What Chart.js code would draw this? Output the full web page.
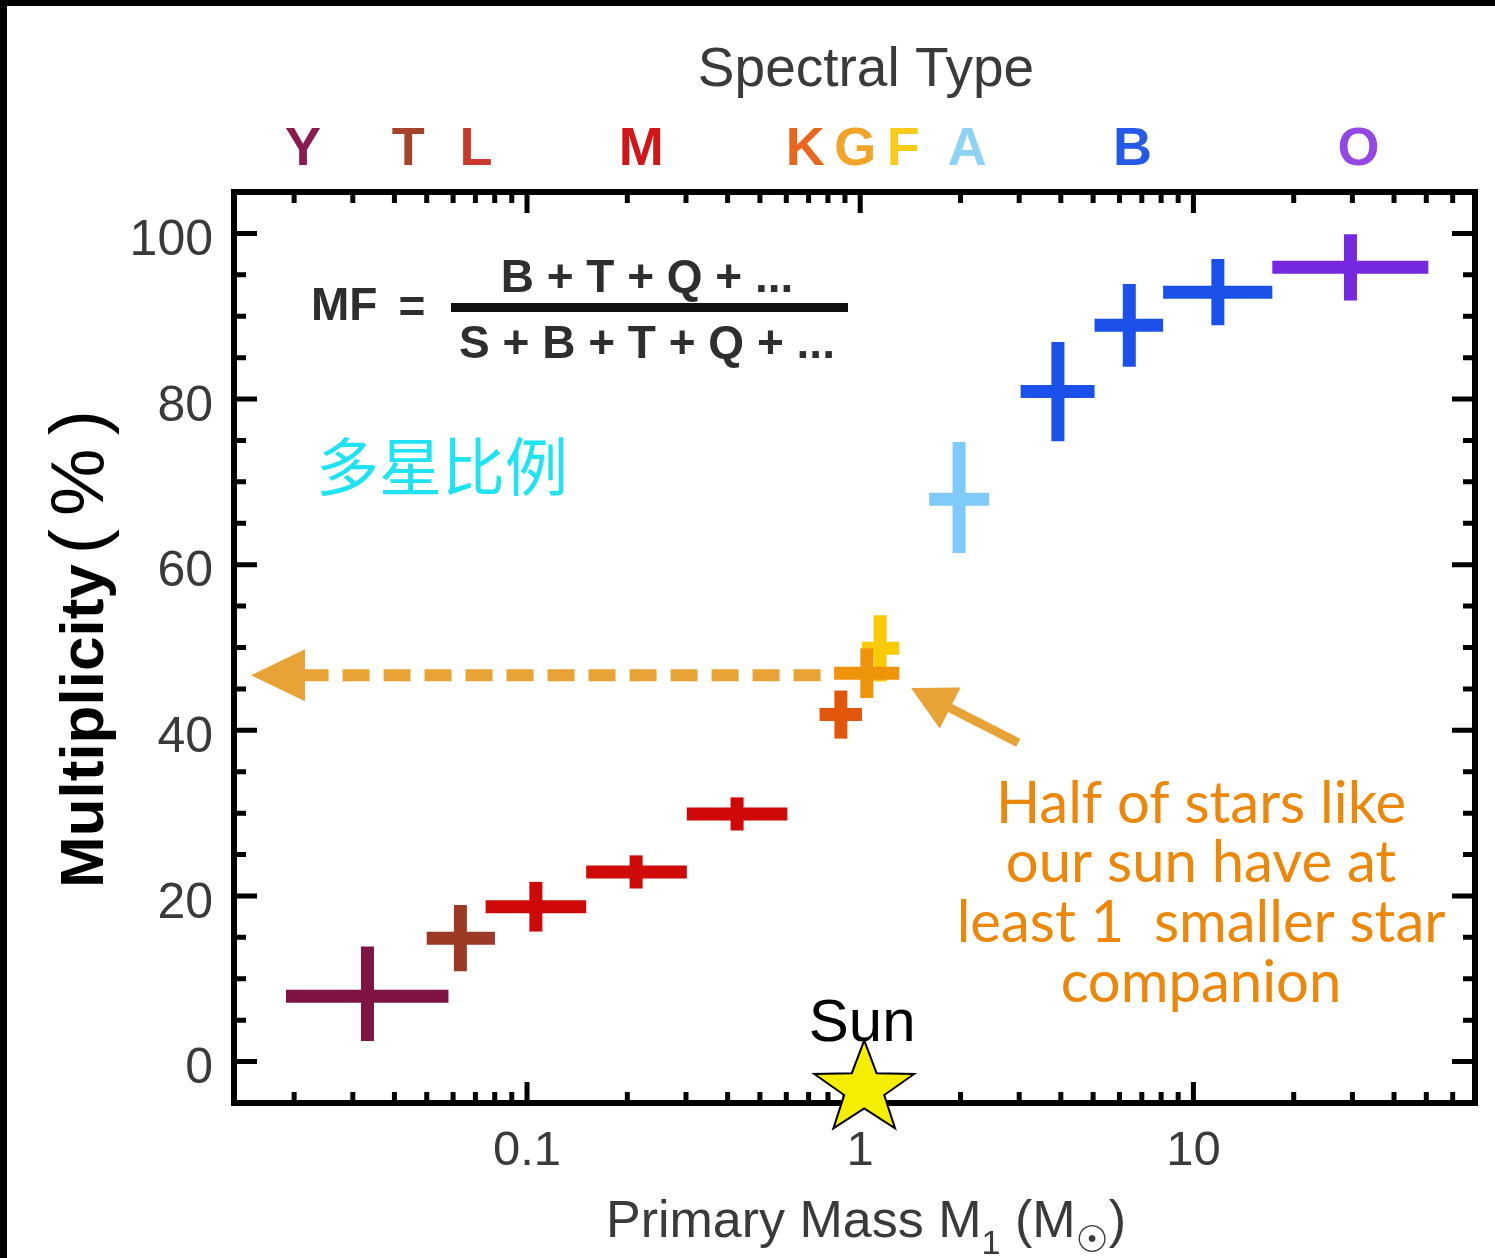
<!DOCTYPE html>
<html>
<head>
<meta charset="utf-8">
<script src="https://cdn.jsdelivr.net/npm/chart.js@4.4.1/dist/chart.umd.min.js"></script>
<style>
  html, body { margin: 0; padding: 0; background: #fff; }
  canvas { display: block; }
</style>
</head>
<body>
<canvas id="mf" width="1495" height="1258"></canvas>
<script>
// ---- Multiplicity fraction versus primary mass ----
// mass bins (solar masses): lower edge, upper edge, representative mass
const binNames  = ['Y/T dwarfs', 'L/T dwarfs', 'late M', 'mid M', 'early M', 'K', 'F', 'G', 'A', 'late B', 'mid B', 'early B', 'O'];
const massLow   = [0.0189, 0.0500, 0.0751, 0.1505, 0.3017, 0.755, 1.012, 0.835, 1.61, 3.03, 5.05, 8.11, 17.25];
const massHigh  = [0.0581, 0.0801, 0.1505, 0.3017, 0.6045, 1.012, 1.31, 1.31, 2.437, 5.05, 8.11, 17.25, 50.7];
const massMid   = [0.0332, 0.0631, 0.1063, 0.2125, 0.427, 0.875, 1.148, 1.047, 1.98, 3.92, 6.42, 11.84, 29.6];
// multiplicity fraction (%) and its uncertainty
const mfValue   = [7.9, 14.9, 18.7, 22.9, 29.9, 41.9, 49.9, 46.9, 67.9, 80.9, 88.9, 92.9, 95.9];
const mfErrLow  = [5.4, 4.0, 3.0, 2.0, 2.0, 2.9, 4.0, 3.0, 6.5, 6.0, 5.0, 4.0, 4.0];
const mfErrHigh = [6.0, 4.0, 3.0, 2.0, 2.0, 2.9, 4.0, 3.0, 6.9, 6.0, 5.0, 4.0, 4.0];
const binColors = ['#7e1444', '#9b3a25', '#cf0808', '#cf0808', '#cf0808', '#e2570c', '#f8cb06', '#ef930b', '#7fcaf8', '#1b50ea', '#1b50ea', '#1b50ea', '#7528e0'];

// spectral-type scale along the top
const typeLetters = ['Y', 'T', 'L', 'M', 'K', 'G', 'F', 'A', 'B', 'O'];
const typeMass    = [0.02125, 0.044, 0.0703, 0.22, 0.684, 0.966, 1.346, 2.096, 6.56, 31.3];
const typeColors  = ['#8b1b4f', '#a5432d', '#c93a2c', '#d11518', '#e8661d', '#f2a42a', '#f8cb1a', '#8fd2f7', '#2559e8', '#9348e6'];

// axis ticks
const xTickValues = [0.1, 1, 10];
const xTickLabels = ['0.1', '1', '10'];
const yTickValues = [0, 20, 40, 60, 80, 100];
const yTickLabels = ['0', '20', '40', '60', '80', '100'];

const sunMass = 1;        // the Sun, 1 solar mass
const SOLAR_BIN = 7;      // G-type bin, used for the dashed guide

const SANS = '"Liberation Sans", Arial, Helvetica, sans-serif';
const ARROW = '#e8a336';
const NOTE = '#ec8709';

// pointer arrow from the note to the solar-type bins (mass, %)
const pointer = { tail: { m: 2.98, p: 38.5 }, tip: { m: 1.42, p: 45.1 } };

// error crosses: one horizontal (mass range) and one vertical (uncertainty) segment per bin
const datasets = [];
massMid.forEach((m, i) => {
  const base = {
    label: binNames[i], showLine: true, borderColor: binColors[i], backgroundColor: binColors[i],
    borderWidth: 13, borderCapStyle: 'butt', pointRadius: 0, clip: false
  };
  datasets.push({ ...base, data: [{ x: massLow[i], y: mfValue[i] }, { x: massHigh[i], y: mfValue[i] }] });
  datasets.push({ ...base, data: [{ x: m, y: mfValue[i] - mfErrLow[i] }, { x: m, y: mfValue[i] + mfErrHigh[i] }] });
});
datasets.forEach((d, i) => { d.order = -i; });

// filled five-point star
function drawStar(ctx, cx, cy, R, r, sx) {
  ctx.beginPath();
  for (let i = 0; i < 10; i++) {
    const rad = i % 2 === 0 ? R : r;
    const a = -Math.PI / 2 + i * Math.PI / 5;
    ctx.lineTo(cx + rad * Math.cos(a) * sx, cy + rad * Math.sin(a));
  }
  ctx.closePath();
  ctx.fillStyle = '#f6ee00';
  ctx.fill();
  ctx.lineWidth = 2;
  ctx.strokeStyle = '#000';
  ctx.stroke();
}

// box frame with inward ticks on all four sides
const framePlugin = {
  id: 'frame',
  beforeDatasetsDraw(chart) {
    const { ctx, chartArea: a, scales } = chart;
    const xs = scales.x, ys = scales.y;
    ctx.save();
    ctx.strokeStyle = '#000';
    ctx.lineCap = 'butt';
    ctx.lineWidth = 5;
    for (let d = -2; d <= 1; d++) {
      for (let k = 1; k <= 9; k++) {
        const v = k * Math.pow(10, d);
        if (v <= xs.min || v >= xs.max) continue;
        const px = xs.getPixelForValue(v);
        const len = k === 1 ? 21 : 11;
        ctx.beginPath();
        ctx.moveTo(px, a.bottom); ctx.lineTo(px, a.bottom - len);
        ctx.moveTo(px, a.top); ctx.lineTo(px, a.top + len);
        ctx.stroke();
      }
    }
    for (let v = 0; v <= 100; v += 5) {
      const py = ys.getPixelForValue(v);
      const len = v % 20 === 0 ? 23 : 12;
      ctx.beginPath();
      ctx.moveTo(a.left, py); ctx.lineTo(a.left + len, py);
      ctx.moveTo(a.right, py); ctx.lineTo(a.right - len, py);
      ctx.stroke();
    }
    ctx.lineWidth = 6;
    ctx.strokeRect(a.left, a.top, a.right - a.left, a.bottom - a.top);
    ctx.restore();
  }
};

// labels, formula, arrows, the Sun
const notesPlugin = {
  id: 'notes',
  afterDatasetsDraw(chart) {
    const { ctx, chartArea: a, scales } = chart;
    const xs = scales.x, ys = scales.y;
    ctx.save();

    // dashed guide to the y axis at the solar-type multiplicity
    const gy = ys.getPixelForValue(mfValue[SOLAR_BIN]) + 2;
    const tipX = a.left + 17, headLen = 54, headHalf = 26;
    ctx.strokeStyle = ARROW;
    ctx.lineWidth = 12;
    ctx.setLineDash([27, 14]);
    ctx.beginPath();
    ctx.moveTo(xs.getPixelForValue(massLow[5]) + 1, gy);
    ctx.lineTo(tipX + headLen - 2, gy);
    ctx.stroke();
    ctx.setLineDash([]);
    ctx.fillStyle = ARROW;
    ctx.beginPath();
    ctx.moveTo(tipX, gy);
    ctx.lineTo(tipX + headLen, gy - headHalf);
    ctx.lineTo(tipX + headLen, gy + headHalf);
    ctx.closePath();
    ctx.fill();

    // solid pointer arrow
    const t0x = xs.getPixelForValue(pointer.tail.m), t0y = ys.getPixelForValue(pointer.tail.p);
    const t1x = xs.getPixelForValue(pointer.tip.m), t1y = ys.getPixelForValue(pointer.tip.p);
    const dx = t1x - t0x, dy = t1y - t0y, L = Math.hypot(dx, dy);
    const ux = dx / L, uy = dy / L, nx = -uy, ny = ux;
    const hl = 44, hw = 23;
    ctx.lineWidth = 9;
    ctx.beginPath();
    ctx.moveTo(t0x, t0y);
    ctx.lineTo(t1x - ux * (hl - 4), t1y - uy * (hl - 4));
    ctx.stroke();
    ctx.beginPath();
    ctx.moveTo(t1x, t1y);
    ctx.lineTo(t1x - ux * hl + nx * hw, t1y - uy * hl + ny * hw);
    ctx.lineTo(t1x - ux * hl - nx * hw, t1y - uy * hl - ny * hw);
    ctx.closePath();
    ctx.fill();

    // the Sun
    const sx = xs.getPixelForValue(sunMass);
    drawStar(ctx, sx + 4, a.bottom - 14, 48.6, 19.5, 1.08);
    ctx.fillStyle = '#000';
    ctx.font = '60px ' + SANS;
    ctx.textAlign = 'center';
    ctx.textBaseline = 'alphabetic';
    ctx.fillText('Sun', sx + 2, 1041);

    // note text
    ctx.fillStyle = NOTE;
    ctx.font = '58px Lato, "Open Sans", sans-serif';
    const noteLines = ['Half of stars like', 'our sun have at', 'least 1  smaller star', 'companion'];
    const noteBase = [823, 882, 942, 1002];
    noteLines.forEach((s, i) => ctx.fillText(s, 1201, noteBase[i]));

    // multiplicity-fraction definition
    ctx.fillStyle = '#2e2e2e';
    ctx.font = 'bold 46px ' + SANS;
    ctx.textAlign = 'left';
    ctx.fillText('MF', 311, 320);
    ctx.textAlign = 'center';
    ctx.fillText('=', 412, 322);
    ctx.fillText('B + T + Q + ...', 647, 292);
    ctx.fillText('S + B + T + Q + ...', 647, 358);
    ctx.fillStyle = '#111';
    ctx.fillRect(451, 303, 397, 9);

    // Chinese caption
    ctx.fillStyle = '#1fe3f3';
    ctx.font = '63px "Noto Sans CJK SC", "Noto Sans CJK TC", sans-serif';
    ctx.textAlign = 'left';
    ctx.textBaseline = 'middle';
    ctx.fillText('多星比例', 316, 466);

    ctx.restore();
  },
  afterDraw(chart) {
    const { ctx } = chart;
    ctx.save();
    ctx.textBaseline = 'alphabetic';

    // top axis title
    ctx.fillStyle = '#3a3a3a';
    ctx.font = '55px ' + SANS;
    ctx.textAlign = 'center';
    ctx.fillText('Spectral Type', 866, 86);

    // bottom axis title with subscripts
    const parts = [
      { t: 'Primary Mass M', f: '52px ' + SANS, dy: 0 },
      { t: '1', f: '34px ' + SANS, dy: 17 },
      { t: ' (M', f: '52px ' + SANS, dy: 0 },
      { t: '\u2609', f: '37px "DejaVu Sans", sans-serif', dy: 15 },
      { t: ')', f: '52px ' + SANS, dy: 0 }
    ];
    let total = 0;
    parts.forEach(p => { ctx.font = p.f; p.w = ctx.measureText(p.t).width; total += p.w; });
    let px = 866 - total / 2;
    ctx.textAlign = 'left';
    parts.forEach(p => { ctx.font = p.f; ctx.fillText(p.t, px, 1237 + p.dy); px += p.w; });

    // left axis title, rotated
    ctx.translate(103, 888);
    ctx.rotate(-Math.PI / 2);
    ctx.fillStyle = '#000';
    ctx.font = 'bold 62px ' + SANS;
    ctx.fillText('Multiplicity', 0, 0);
    const w1 = ctx.measureText('Multiplicity').width;
    ctx.font = '76px ' + SANS;
    ctx.letterSpacing = '13px';
    ctx.fillText('(%)', w1 + 10, 0);
    ctx.letterSpacing = '0px';
    ctx.setTransform(1, 0, 0, 1, 0, 0);

    // dark edge strips
    ctx.fillStyle = '#000';
    ctx.fillRect(0, 0, 1495, 6);
    ctx.fillRect(0, 0, 7, 1258);
    ctx.restore();
  }
};

new Chart(document.getElementById('mf'), {
  type: 'scatter',
  data: { datasets },
  options: {
    responsive: false,
    animation: false,
    events: [],
    layout: { padding: { left: 0, right: 20, top: 0, bottom: 0 } },
    plugins: { legend: { display: false }, tooltip: { enabled: false }, title: { display: false } },
    scales: {
      x: {
        type: 'logarithmic', position: 'bottom', min: 0.0132, max: 70,
        afterBuildTicks: s => { s.ticks = xTickValues.map(v => ({ value: v })); },
        afterFit: s => { s.height = 155; },
        grid: { display: false, drawTicks: false },
        border: { display: false },
        ticks: {
          autoSkip: false, maxRotation: 0, padding: 19, color: '#3a3a3a',
          font: { family: SANS, size: 49 },
          callback: (v, i) => xTickLabels[i]
        }
      },
      x2: {
        type: 'logarithmic', position: 'top', min: 0.0132, max: 70,
        afterBuildTicks: s => { s.ticks = typeMass.map(v => ({ value: v })); },
        afterFit: s => { s.height = 192; },
        grid: { display: false, drawTicks: false },
        border: { display: false },
        ticks: {
          autoSkip: false, maxRotation: 0, padding: 9,
          color: c => typeColors[c.index],
          font: { family: SANS, size: 54, weight: 'bold' },
          callback: (v, i) => typeLetters[i]
        }
      },
      y: {
        type: 'linear', position: 'left', min: -5, max: 105,
        afterBuildTicks: s => { s.ticks = yTickValues.map(v => ({ value: v })); },
        afterFit: s => { s.width = 234; },
        grid: { display: false, drawTicks: false },
        border: { display: false },
        ticks: {
          autoSkip: false, padding: 21, labelOffset: 8, color: '#3a3a3a',
          font: { family: SANS, size: 50 },
          callback: (v, i) => yTickLabels[i]
        }
      }
    }
  },
  plugins: [framePlugin, notesPlugin]
});
</script>
</body>
</html>
